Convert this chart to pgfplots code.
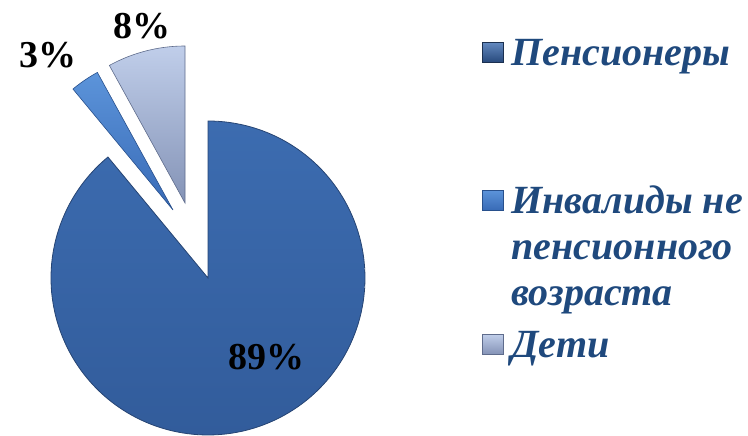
\documentclass[border=0pt]{standalone}
\usepackage{pgfplots}
\pgfplotsset{compat=1.18}
\usepackage{fontspec}
\setmainfont{Liberation Serif}
\definecolor{bigtop}{RGB}{60,108,176}
\definecolor{bigbot}{RGB}{50,92,155}
\definecolor{bigedge}{RGB}{38,68,115}
\definecolor{midtop}{RGB}{92,148,218}
\definecolor{midbot}{RGB}{56,106,182}
\definecolor{midedge}{RGB}{40,80,140}
\definecolor{lighttop}{RGB}{192,206,234}
\definecolor{lightbot}{RGB}{132,147,182}
\definecolor{lightedge}{RGB}{95,108,140}
\definecolor{legtext}{RGB}{31,73,125}
% shares (percent)
\pgfmathsetmacro{\vP}{89}
\pgfmathsetmacro{\vI}{3}
\pgfmathsetmacro{\vD}{8}
\pgfmathsetmacro{\aP}{90-3.6*\vP}
\pgfmathsetmacro{\aD}{90+3.6*\vD}
\pgfmathsetmacro{\aI}{\aD+3.6*\vI}
\begin{document}
\begin{tikzpicture}
\begin{axis}[
  scale only axis, width=748pt, height=436pt,
  xmin=0, xmax=748, ymin=0, ymax=436,
  hide axis, clip=false,
  legend style={at={(axis cs:482,401)}, anchor=north west, draw=none, fill=none,
    inner sep=0pt, row sep=0pt,
    font=\bfseries\itshape\fontsize{40}{46}\selectfont, text=legtext,
    nodes={anchor=base west, inner sep=0pt, text height=30pt, text depth=16pt},
    /tikz/every odd column/.append style={column sep=8pt}},
]
\coordinate (bbSW) at (axis cs:0,0);
\coordinate (bbNE) at (axis cs:748,436);
% Pensioners 89%
\addplot[forget plot, draw=bigedge, line width=0.8pt, top color=bigtop, bottom color=bigbot,
  domain=\aP:90, samples=160, variable=\t]
  ({208+157*cos(\t)},{158+157*sin(\t)}) -- (axis cs:208,158) -- cycle;
% Disabled 3% (exploded)
\addplot[forget plot, draw=midedge, line width=0.6pt, top color=midtop, bottom color=midbot,
  domain=\aD:\aI, samples=20, variable=\t]
  ({173+157*cos(\t)},{226+157*sin(\t)}) -- (axis cs:173,226) -- cycle;
% Children 8% (exploded)
\addplot[forget plot, draw=lightedge, line width=0.6pt, top color=lighttop, bottom color=lightbot,
  domain=90:\aD, samples=40, variable=\t]
  ({185+157*cos(\t)},{233+157*sin(\t)}) -- (axis cs:185,233) -- cycle;

\node[font=\bfseries\fontsize{38}{38}\selectfont] at (axis cs:266,79) {89\%};
\node[font=\bfseries\fontsize{38}{38}\selectfont] at (axis cs:47.5,381) {3\%};
\node[font=\bfseries\fontsize{38}{38}\selectfont] at (axis cs:141.5,409.5) {8\%};

\addlegendimage{legend image code/.code={\shade[top color=bigtop!80!white, bottom color=bigbot!80!black, draw=bigedge!70!black] (0pt,3pt) rectangle (21pt,23pt);}}
\addlegendentry[text depth=118pt]{Пенсионеры}
\addlegendimage{legend image code/.code={\shade[top color=midtop, bottom color=midbot, draw=midedge] (0pt,3pt) rectangle (21pt,23pt);}}
\addlegendentry{Инвалиды не}
\addlegendimage{empty legend}
\addlegendentry{пенсионного}
\addlegendimage{empty legend}
\addlegendentry[text depth=22pt]{возраста}
\addlegendimage{legend image code/.code={\shade[top color=lighttop, bottom color=lightbot, draw=lightedge] (0pt,3pt) rectangle (21pt,23pt);}}
\addlegendentry{Дети}
\end{axis}
\pgfresetboundingbox
\useasboundingbox (bbSW) rectangle (bbNE);
\end{tikzpicture}
\end{document}
